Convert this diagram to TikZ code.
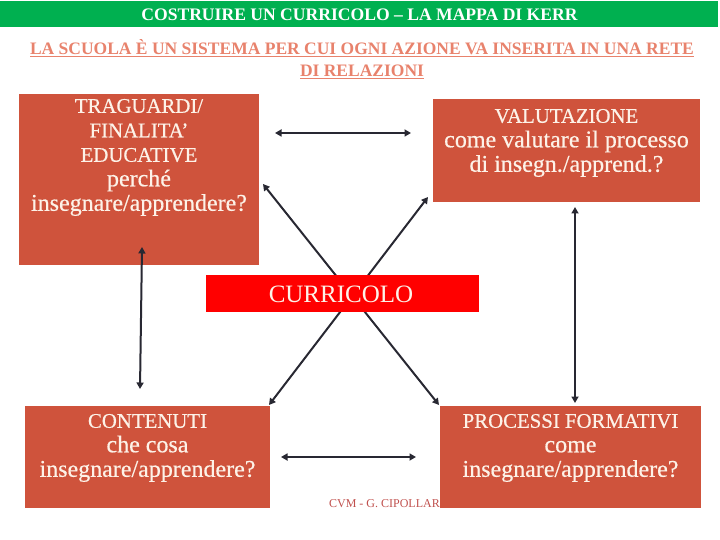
\documentclass[tikz,border=0pt]{standalone}
\usepackage{fontspec}
\setmainfont{Liberation Serif}
\newfontfamily\boxfont[Ligatures=TeX,FakeBold=0.5]{Liberation Serif}
\usepackage{xcolor}
\usetikzlibrary{arrows.meta,positioning}

\definecolor{kerrred}{RGB}{207,83,60}
\definecolor{kerrgreen}{RGB}{0,176,80}
\definecolor{salmon}{RGB}{232,130,108}
\definecolor{boxtxt}{RGB}{253,242,232}
\definecolor{arrowgray}{RGB}{40,40,50}
\definecolor{signred}{RGB}{192,80,77}

% righe in maiuscolo un po' piu' piccole
\newcommand{\capsline}[1]{{\fontsize{20.8}{24.5}\selectfont #1}}

\begin{document}
\begin{tikzpicture}[
  x=1pt, y=-1pt,
  box/.style={fill=kerrred, inner sep=0pt},
  boxtext/.style={align=center, text=boxtxt, inner sep=0pt, font=\boxfont\fontsize{24}{24.5}\selectfont},
  arrow/.style={{Triangle[length=6.5pt,width=7pt]}-{Triangle[length=6.5pt,width=7pt]}, line width=2pt, draw=arrowgray}
]
\useasboundingbox (0,0) rectangle (720,540);

% titolo
\node[fill=kerrgreen, minimum width=718pt, minimum height=26pt, inner sep=0pt] (bar) at (359,14) {};
\node[text=white, font=\fontsize{17.6}{19}\bfseries] (title) at (359.5,15) {COSTRUIRE UN CURRICOLO -- LA MAPPA DI KERR};
\node[text=salmon, align=center, font=\fontsize{17.5}{22}\bfseries] (sub) at (362,59)
  {\underline{LA SCUOLA È UN SISTEMA PER CUI OGNI AZIONE VA INSERITA IN UNA RETE}\\\underline{DI RELAZIONI}};

% frecce diagonali (sotto il riquadro centrale)
\coordinate (da) at (263,184);  \coordinate (db) at (428,197);
\coordinate (dc) at (269,405);  \coordinate (dd) at (439,405);
\draw[arrow] (da) -- (dd);
\draw[arrow] (db) -- (dc);

% riquadri
\node[box, minimum width=240pt, minimum height=171pt] (trag) at (139,179.5) {};
\node[boxtext, below=5pt of trag.north] (tragtxt) {\capsline{TRAGUARDI/}\\\capsline{FINALITA’}\\\capsline{EDUCATIVE}\\perché\\insegnare/apprendere?};
\node[box, minimum width=267pt, minimum height=103pt] (valu) at (566.5,150.5) {};
\node[boxtext, below=10pt of valu.north] (valutxt) {\capsline{VALUTAZIONE}\\come valutare il processo\\di insegn./apprend.?};
\node[fill=red, minimum width=273pt, minimum height=37pt, inner sep=0pt] (curr) at (342.5,293.5) {};
\node[text=boxtxt, font=\fontsize{25}{26}\selectfont] (currtxt) at (341,294) {CURRICOLO};
\node[box, minimum width=245pt, minimum height=102pt] (cont) at (147.5,457) {};
\node[boxtext, below=8pt of cont.north] (conttxt) {\capsline{CONTENUTI}\\che cosa\\insegnare/apprendere?};
\node[text=signred, font=\fontsize{12}{13}\selectfont, anchor=base east, inner sep=0pt] (firma) at (440,507) {CVM - G. CIPOLLAR};
\node[box, minimum width=261pt, minimum height=102pt] (proc) at (570.5,457) {};
\node[boxtext, below=8pt of proc.north] (proctxt) {\capsline{PROCESSI FORMATIVI}\\come\\insegnare/apprendere?};

% altre frecce
\coordinate (tl) at (275,133);  \coordinate (tr) at (411,133);
\coordinate (bl) at (281,457);  \coordinate (br) at (416,457);
\coordinate (lu) at (142,247);  \coordinate (ld) at (140,389);
\coordinate (ru) at (575,207);  \coordinate (rd) at (575,403);
\draw[arrow] (tl) -- (tr);
\draw[arrow] (bl) -- (br);
\draw[arrow] (lu) -- (ld);
\draw[arrow] (ru) -- (rd);
\end{tikzpicture}
\end{document}
